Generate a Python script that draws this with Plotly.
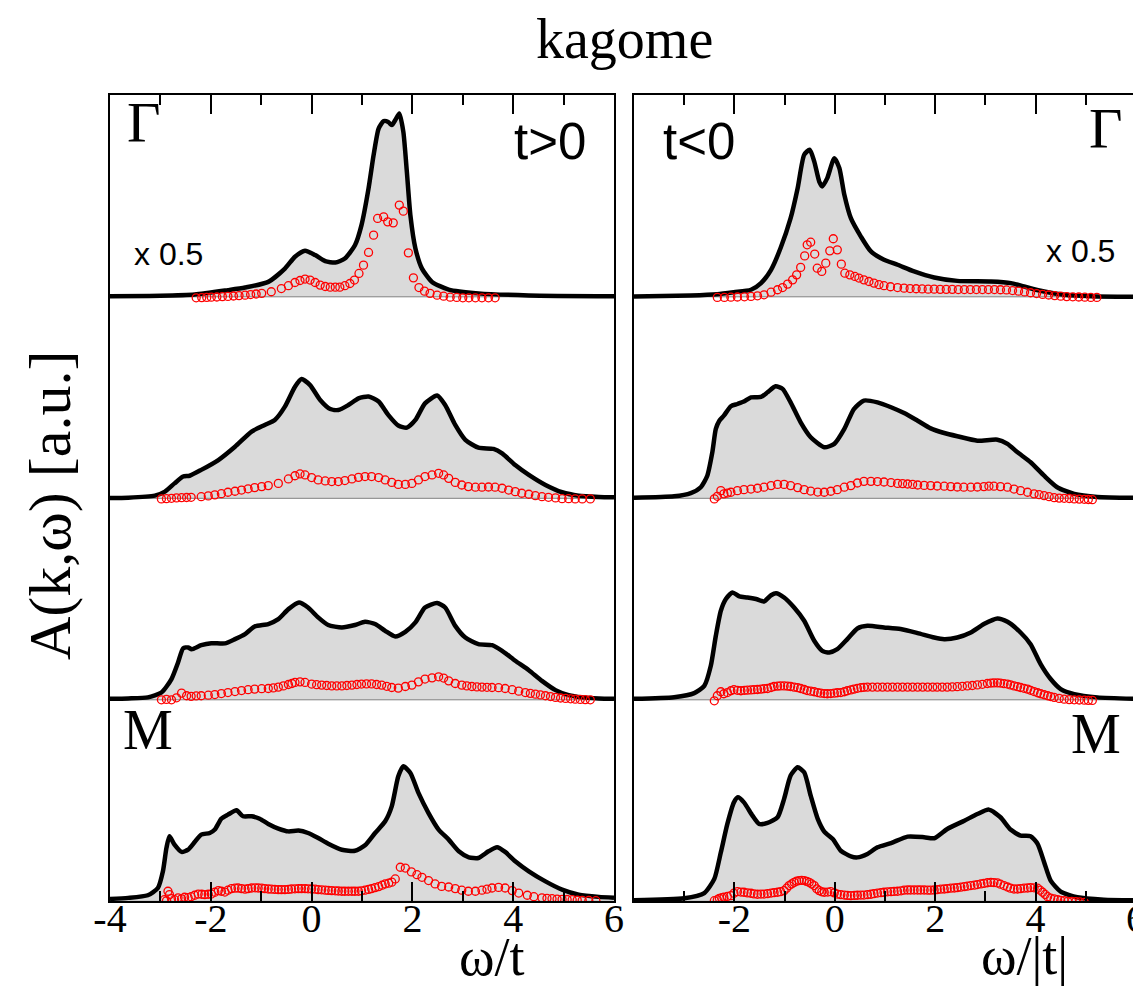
import plotly.graph_objects as go

W, H = 1141, 986

# ---------------- data (A(k,w) in units of one strip height) ----------------
# left column: t>0 ; strips from top: Gamma, k2, k3, M
lt1_w = [-4.0, -3.0, -2.32, -1.66, -1.32, -0.86, -0.53, -0.33, -0.13, 0.07, 0.27, 0.47, 0.66, 0.86, 0.99, 1.13, 1.23, 1.33, 1.43, 1.52, 1.59, 1.66, 1.74, 1.82, 1.89, 1.96, 2.06, 2.19, 2.39, 2.72, 3.31, 4.31, 6.0]
lt1_a = [0.003, 0.005, 0.011, 0.033, 0.046, 0.074, 0.14, 0.199, 0.229, 0.207, 0.177, 0.17, 0.19, 0.256, 0.356, 0.538, 0.703, 0.835, 0.872, 0.868, 0.852, 0.877, 0.91, 0.819, 0.62, 0.405, 0.24, 0.14, 0.074, 0.036, 0.017, 0.007, 0.003]
lt1_rw = [-2.29, -2.18, -2.08, -1.99, -1.88, -1.77, -1.66, -1.55, -1.44, -1.32, -1.21, -1.10, -0.99, -0.80, -0.60, -0.46, -0.33, -0.23, -0.13, -0.03, 0.07, 0.17, 0.27, 0.37, 0.47, 0.56, 0.66, 0.76, 0.85, 0.94, 1.03, 1.13, 1.23, 1.31, 1.43, 1.51, 1.62, 1.74, 1.82, 1.92, 2.02, 2.13, 2.24, 2.35, 2.49, 2.62, 2.75, 2.88, 3.00, 3.12, 3.25, 3.38, 3.51, 3.64]
lt1_ra = [-0.005, -0.004, -0.003, -0.002, -0.001, 0.001, 0.002, 0.004, 0.006, 0.008, 0.011, 0.014, 0.017, 0.025, 0.041, 0.055, 0.071, 0.081, 0.088, 0.083, 0.071, 0.058, 0.051, 0.048, 0.048, 0.048, 0.055, 0.066, 0.083, 0.116, 0.157, 0.22, 0.306, 0.389, 0.397, 0.372, 0.367, 0.455, 0.425, 0.218, 0.094, 0.046, 0.028, 0.017, 0.008, 0.003, -0.002, -0.003, -0.005, -0.005, -0.005, -0.005, -0.005, -0.005]

lt2_w = [-4.0, -3.64, -3.11, -2.91, -2.72, -2.55, -2.42, -2.19, -1.85, -1.52, -1.19, -0.93, -0.73, -0.53, -0.33, -0.20, -0.03, 0.17, 0.37, 0.53, 0.73, 0.93, 1.13, 1.33, 1.52, 1.72, 1.89, 2.06, 2.25, 2.49, 2.65, 2.85, 3.05, 3.31, 3.61, 3.78, 4.04, 4.31, 4.64, 4.97, 5.30, 5.70, 6.0]
lt2_a = [0.002, 0.003, 0.013, 0.033, 0.074, 0.108, 0.112, 0.141, 0.19, 0.256, 0.331, 0.364, 0.389, 0.455, 0.554, 0.592, 0.562, 0.488, 0.443, 0.438, 0.463, 0.496, 0.505, 0.48, 0.414, 0.361, 0.351, 0.389, 0.471, 0.51, 0.463, 0.364, 0.29, 0.251, 0.245, 0.223, 0.165, 0.116, 0.066, 0.03, 0.013, 0.007, 0.005]
lt2_rw = [-2.98, -2.88, -2.78, -2.68, -2.58, -2.48, -2.39, -2.19, -2.05, -1.92, -1.79, -1.66, -1.52, -1.39, -1.26, -1.13, -0.99, -0.86, -0.66, -0.46, -0.33, -0.23, -0.13, 0.00, 0.13, 0.27, 0.40, 0.53, 0.66, 0.80, 0.93, 1.06, 1.19, 1.33, 1.46, 1.59, 1.72, 1.86, 1.99, 2.12, 2.25, 2.39, 2.52, 2.62, 2.72, 2.85, 2.98, 3.11, 3.25, 3.38, 3.51, 3.64, 3.78, 3.91, 4.04, 4.17, 4.31, 4.44, 4.57, 4.70, 4.84, 4.97, 5.10, 5.23, 5.37, 5.53]
lt2_ra = [-0.003, -0.002, 0.0, 0.002, 0.003, 0.004, 0.005, 0.008, 0.012, 0.017, 0.023, 0.03, 0.035, 0.041, 0.047, 0.053, 0.058, 0.063, 0.074, 0.096, 0.112, 0.121, 0.116, 0.103, 0.091, 0.086, 0.083, 0.083, 0.088, 0.096, 0.104, 0.108, 0.108, 0.103, 0.091, 0.079, 0.069, 0.069, 0.074, 0.091, 0.108, 0.116, 0.124, 0.116, 0.099, 0.079, 0.066, 0.058, 0.055, 0.055, 0.056, 0.055, 0.05, 0.041, 0.033, 0.025, 0.02, 0.013, 0.008, 0.005, 0.002, -0.002, -0.002, -0.003, -0.003, -0.003]

lt3_w = [-4.0, -3.64, -3.25, -2.98, -2.78, -2.65, -2.55, -2.45, -2.38, -2.19, -1.99, -1.72, -1.52, -1.32, -1.13, -0.86, -0.66, -0.46, -0.25, -0.07, 0.13, 0.33, 0.60, 0.86, 1.06, 1.26, 1.46, 1.66, 1.86, 2.06, 2.25, 2.49, 2.65, 2.85, 3.05, 3.31, 3.58, 3.78, 4.04, 4.31, 4.57, 4.84, 5.10, 5.37, 5.70, 6.0]
lt3_a = [0.005, 0.007, 0.012, 0.036, 0.103, 0.185, 0.255, 0.26, 0.251, 0.271, 0.281, 0.28, 0.301, 0.326, 0.364, 0.376, 0.40, 0.45, 0.483, 0.458, 0.409, 0.371, 0.359, 0.371, 0.387, 0.376, 0.342, 0.314, 0.337, 0.384, 0.458, 0.48, 0.458, 0.367, 0.309, 0.276, 0.271, 0.243, 0.194, 0.147, 0.094, 0.048, 0.023, 0.012, 0.007, 0.005]
lt3_rw = [-2.98, -2.88, -2.78, -2.68, -2.58, -2.48, -2.39, -2.29, -2.19, -2.05, -1.92, -1.79, -1.66, -1.52, -1.39, -1.26, -1.13, -0.99, -0.86, -0.76, -0.66, -0.56, -0.46, -0.39, -0.33, -0.23, -0.13, 0.0, 0.10, 0.20, 0.30, 0.40, 0.50, 0.60, 0.70, 0.80, 0.90, 0.99, 1.09, 1.19, 1.29, 1.39, 1.49, 1.59, 1.72, 1.86, 1.99, 2.12, 2.25, 2.39, 2.52, 2.62, 2.72, 2.85, 2.98, 3.08, 3.18, 3.28, 3.38, 3.48, 3.58, 3.71, 3.84, 3.98, 4.11, 4.24, 4.34, 4.44, 4.54, 4.64, 4.74, 4.84, 4.94, 5.04, 5.14, 5.23, 5.33, 5.43, 5.53]
lt3_ra = [0.0, 0.002, 0.0, 0.01, 0.033, 0.02, 0.017, 0.019, 0.02, 0.023, 0.026, 0.031, 0.036, 0.041, 0.046, 0.05, 0.053, 0.055, 0.056, 0.059, 0.063, 0.069, 0.076, 0.081, 0.086, 0.089, 0.086, 0.078, 0.075, 0.073, 0.071, 0.069, 0.069, 0.069, 0.071, 0.073, 0.076, 0.078, 0.079, 0.079, 0.076, 0.073, 0.067, 0.061, 0.058, 0.066, 0.073, 0.089, 0.103, 0.109, 0.114, 0.108, 0.094, 0.081, 0.073, 0.069, 0.066, 0.064, 0.063, 0.062, 0.061, 0.06, 0.056, 0.05, 0.043, 0.036, 0.032, 0.028, 0.024, 0.02, 0.016, 0.012, 0.009, 0.007, 0.005, 0.003, 0.002, 0.001, 0.0]

lt4_w = [-4.0, -3.64, -3.25, -3.05, -2.95, -2.88, -2.82, -2.72, -2.58, -2.45, -2.32, -2.19, -2.02, -1.92, -1.79, -1.66, -1.49, -1.36, -1.19, -1.03, -0.86, -0.66, -0.46, -0.26, -0.07, 0.13, 0.33, 0.60, 0.86, 1.06, 1.26, 1.46, 1.59, 1.72, 1.82, 1.96, 2.12, 2.32, 2.52, 2.72, 2.92, 3.12, 3.31, 3.51, 3.68, 3.84, 4.04, 4.31, 4.64, 4.97, 5.30, 5.70, 6.0]
lt4_a = [0.012, 0.017, 0.03, 0.066, 0.149, 0.265, 0.323, 0.281, 0.245, 0.256, 0.294, 0.331, 0.339, 0.356, 0.41, 0.43, 0.452, 0.422, 0.422, 0.41, 0.384, 0.361, 0.347, 0.351, 0.339, 0.314, 0.286, 0.256, 0.251, 0.278, 0.339, 0.397, 0.471, 0.62, 0.67, 0.637, 0.538, 0.438, 0.356, 0.306, 0.248, 0.218, 0.215, 0.248, 0.268, 0.245, 0.199, 0.149, 0.099, 0.058, 0.033, 0.022, 0.018]
lt4_rw = [-2.92, -2.88, -2.85, -2.82, -2.78, -2.72, -2.65, -2.58, -2.52, -2.45, -2.39, -2.32, -2.25, -2.18, -2.12, -2.05, -1.99, -1.92, -1.85, -1.79, -1.72, -1.66, -1.59, -1.52, -1.46, -1.39, -1.32, -1.26, -1.19, -1.12, -1.06, -0.99, -0.93, -0.86, -0.80, -0.73, -0.66, -0.60, -0.53, -0.46, -0.40, -0.33, -0.26, -0.20, -0.13, -0.07, 0.0, 0.07, 0.13, 0.20, 0.27, 0.33, 0.40, 0.47, 0.53, 0.60, 0.66, 0.73, 0.80, 0.86, 0.93, 0.99, 1.06, 1.13, 1.19, 1.26, 1.33, 1.40, 1.46, 1.53, 1.59, 1.66, 1.76, 1.86, 1.98, 2.09, 2.19, 2.32, 2.45, 2.58, 2.72, 2.85, 2.98, 3.11, 3.25, 3.38, 3.48, 3.58, 3.71, 3.84, 3.98, 4.11, 4.28, 4.41, 4.57, 4.67, 4.77, 4.87, 4.97, 5.07, 5.17, 5.27, 5.37, 5.50, 5.64]
lt4_ra = [0.008, 0.002, 0.05, 0.033, 0.013, 0.008, 0.017, 0.012, 0.02, 0.018, 0.023, 0.03, 0.036, 0.035, 0.033, 0.035, 0.036, 0.045, 0.053, 0.05, 0.046, 0.055, 0.063, 0.065, 0.066, 0.063, 0.06, 0.063, 0.066, 0.067, 0.066, 0.065, 0.063, 0.061, 0.06, 0.059, 0.058, 0.058, 0.058, 0.059, 0.061, 0.062, 0.063, 0.063, 0.063, 0.062, 0.061, 0.06, 0.058, 0.057, 0.055, 0.054, 0.053, 0.052, 0.051, 0.05, 0.05, 0.05, 0.05, 0.05, 0.05, 0.052, 0.055, 0.059, 0.063, 0.068, 0.073, 0.08, 0.086, 0.09, 0.095, 0.111, 0.169, 0.165, 0.146, 0.132, 0.119, 0.103, 0.086, 0.074, 0.071, 0.063, 0.055, 0.05, 0.05, 0.055, 0.06, 0.066, 0.069, 0.066, 0.053, 0.041, 0.03, 0.023, 0.017, 0.015, 0.013, 0.011, 0.01, 0.009, 0.008, 0.006, 0.005, 0.004, 0.003]

# right column: t<0
rt1_w = [-4.0, -2.87, -2.34, -2.01, -1.67, -1.47, -1.27, -1.08, -0.88, -0.74, -0.61, -0.50, -0.41, -0.31, -0.25, -0.15, -0.01, 0.09, 0.19, 0.32, 0.52, 0.72, 0.98, 1.25, 1.58, 1.98, 2.44, 3.11, 3.51, 3.77, 4.17, 4.57, 5.10, 6.0]
rt1_a = [0.002, 0.007, 0.013, 0.023, 0.035, 0.068, 0.134, 0.242, 0.39, 0.539, 0.705, 0.73, 0.672, 0.572, 0.548, 0.589, 0.688, 0.639, 0.506, 0.39, 0.299, 0.225, 0.184, 0.159, 0.126, 0.096, 0.079, 0.076, 0.068, 0.051, 0.026, 0.010, 0.003, 0.0]
rt1_rw = [-2.34, -2.20, -2.07, -1.94, -1.80, -1.67, -1.54, -1.41, -1.27, -1.14, -1.04, -0.94, -0.84, -0.76, -0.68, -0.60, -0.55, -0.48, -0.40, -0.35, -0.26, -0.18, -0.10, -0.03, 0.05, 0.13, 0.20, 0.30, 0.40, 0.48, 0.58, 0.68, 0.78, 0.88, 0.98, 1.11, 1.25, 1.38, 1.50, 1.62, 1.74, 1.86, 1.98, 2.10, 2.22, 2.34, 2.46, 2.58, 2.70, 2.82, 2.94, 3.06, 3.18, 3.30, 3.42, 3.54, 3.66, 3.78, 3.90, 4.02, 4.14, 4.26, 4.38, 4.50, 4.62, 4.74, 4.86, 4.98, 5.10, 5.22]
rt1_ra = [-0.003, -0.003, -0.002, -0.001, 0.0, 0.002, 0.005, 0.010, 0.023, 0.035, 0.046, 0.063, 0.084, 0.109, 0.146, 0.203, 0.258, 0.271, 0.212, 0.142, 0.126, 0.167, 0.228, 0.288, 0.233, 0.162, 0.117, 0.109, 0.101, 0.093, 0.084, 0.076, 0.068, 0.060, 0.055, 0.050, 0.046, 0.043, 0.041, 0.040, 0.039, 0.038, 0.038, 0.037, 0.037, 0.037, 0.036, 0.036, 0.036, 0.036, 0.036, 0.036, 0.036, 0.035, 0.034, 0.031, 0.028, 0.024, 0.020, 0.016, 0.012, 0.009, 0.006, 0.003, 0.001, 0.0, -0.001, -0.002, -0.003, -0.003]

rt2_w = [-4.0, -3.20, -2.87, -2.67, -2.54, -2.44, -2.37, -2.30, -2.21, -2.07, -1.94, -1.81, -1.67, -1.47, -1.34, -1.18, -1.04, -0.88, -0.68, -0.48, -0.21, -0.01, 0.19, 0.38, 0.58, 0.85, 1.12, 1.38, 1.65, 1.91, 2.18, 2.44, 2.84, 3.24, 3.44, 3.64, 3.90, 4.17, 4.43, 4.77, 5.23, 6.0]
rt2_a = [0.003, 0.01, 0.026, 0.055, 0.112, 0.228, 0.344, 0.385, 0.41, 0.457, 0.468, 0.48, 0.501, 0.503, 0.526, 0.556, 0.543, 0.476, 0.377, 0.303, 0.253, 0.27, 0.344, 0.443, 0.485, 0.476, 0.452, 0.423, 0.385, 0.347, 0.324, 0.308, 0.286, 0.291, 0.27, 0.228, 0.179, 0.112, 0.055, 0.022, 0.007, 0.002]
rt2_rw = [-2.40, -2.34, -2.27, -2.21, -2.14, -2.07, -1.94, -1.81, -1.67, -1.54, -1.41, -1.27, -1.14, -1.01, -0.88, -0.74, -0.61, -0.48, -0.34, -0.21, -0.08, 0.05, 0.19, 0.32, 0.45, 0.58, 0.72, 0.85, 0.98, 1.12, 1.25, 1.35, 1.45, 1.55, 1.65, 1.78, 1.91, 2.04, 2.18, 2.31, 2.44, 2.57, 2.71, 2.84, 2.97, 3.07, 3.17, 3.30, 3.44, 3.57, 3.70, 3.84, 3.97, 4.07, 4.17, 4.27, 4.37, 4.47, 4.57, 4.67, 4.77, 4.87, 4.97, 5.05, 5.13]
rt2_ra = [-0.003, 0.01, 0.038, 0.022, 0.026, 0.03, 0.038, 0.043, 0.046, 0.05, 0.055, 0.063, 0.069, 0.069, 0.063, 0.053, 0.043, 0.036, 0.031, 0.03, 0.035, 0.043, 0.055, 0.063, 0.076, 0.084, 0.084, 0.083, 0.081, 0.078, 0.074, 0.073, 0.071, 0.069, 0.066, 0.064, 0.063, 0.061, 0.06, 0.058, 0.056, 0.055, 0.055, 0.056, 0.058, 0.06, 0.06, 0.058, 0.055, 0.046, 0.038, 0.03, 0.022, 0.018, 0.013, 0.008, 0.003, 0.001, 0.0, -0.001, -0.003, -0.004, -0.005, -0.006, -0.007]

rt3_w = [-4.0, -3.20, -2.80, -2.60, -2.47, -2.37, -2.27, -2.17, -2.04, -1.90, -1.74, -1.57, -1.41, -1.27, -1.17, -1.01, -0.81, -0.61, -0.41, -0.25, -0.11, 0.05, 0.25, 0.45, 0.65, 0.98, 1.31, 1.65, 1.98, 2.18, 2.44, 2.71, 2.97, 3.24, 3.44, 3.70, 3.90, 4.10, 4.30, 4.50, 4.77, 5.23, 6.0]
rt3_a = [0.005, 0.013, 0.033, 0.069, 0.169, 0.318, 0.442, 0.50, 0.533, 0.513, 0.508, 0.50, 0.488, 0.519, 0.529, 0.508, 0.458, 0.392, 0.293, 0.243, 0.235, 0.251, 0.301, 0.354, 0.367, 0.359, 0.351, 0.331, 0.309, 0.301, 0.309, 0.334, 0.376, 0.404, 0.387, 0.334, 0.276, 0.177, 0.103, 0.053, 0.028, 0.012, 0.005]
rt3_rw = [-2.40, -2.34, -2.27, -2.21, -2.14, -2.07, -2.01, -1.94, -1.87, -1.80, -1.74, -1.67, -1.61, -1.54, -1.47, -1.41, -1.34, -1.27, -1.21, -1.14, -1.08, -1.01, -0.94, -0.88, -0.81, -0.74, -0.68, -0.61, -0.55, -0.48, -0.41, -0.34, -0.28, -0.21, -0.15, -0.08, -0.01, 0.05, 0.12, 0.19, 0.25, 0.32, 0.38, 0.45, 0.52, 0.58, 0.65, 0.75, 0.85, 0.95, 1.05, 1.15, 1.25, 1.35, 1.45, 1.55, 1.65, 1.75, 1.85, 1.95, 2.04, 2.14, 2.24, 2.34, 2.44, 2.54, 2.64, 2.74, 2.84, 2.94, 3.04, 3.11, 3.17, 3.24, 3.30, 3.37, 3.44, 3.50, 3.57, 3.64, 3.70, 3.77, 3.84, 3.90, 3.97, 4.04, 4.10, 4.17, 4.24, 4.30, 4.37, 4.47, 4.57, 4.67, 4.77, 4.87, 4.97, 5.05, 5.13]
rt3_ra = [-0.005, 0.02, 0.04, 0.03, 0.036, 0.045, 0.05, 0.047, 0.045, 0.047, 0.048, 0.049, 0.05, 0.051, 0.053, 0.055, 0.056, 0.061, 0.066, 0.068, 0.069, 0.069, 0.068, 0.066, 0.063, 0.06, 0.056, 0.051, 0.046, 0.043, 0.04, 0.036, 0.033, 0.031, 0.03, 0.031, 0.033, 0.035, 0.036, 0.04, 0.045, 0.049, 0.053, 0.057, 0.06, 0.062, 0.063, 0.063, 0.063, 0.063, 0.063, 0.063, 0.063, 0.063, 0.063, 0.063, 0.063, 0.063, 0.063, 0.063, 0.063, 0.063, 0.063, 0.064, 0.065, 0.067, 0.069, 0.071, 0.074, 0.077, 0.081, 0.083, 0.084, 0.084, 0.083, 0.08, 0.078, 0.074, 0.069, 0.065, 0.061, 0.057, 0.053, 0.047, 0.041, 0.035, 0.03, 0.025, 0.02, 0.016, 0.012, 0.007, 0.003, 0.001, 0.0, -0.001, -0.002, -0.003, -0.003]

rt4_w = [-4.0, -3.00, -2.60, -2.40, -2.27, -2.14, -2.01, -1.93, -1.81, -1.64, -1.51, -1.34, -1.14, -1.01, -0.88, -0.74, -0.61, -0.48, -0.34, -0.21, -0.04, 0.12, 0.32, 0.45, 0.65, 0.85, 1.12, 1.45, 1.78, 1.98, 2.24, 2.58, 2.84, 3.07, 3.30, 3.50, 3.70, 3.90, 4.04, 4.17, 4.30, 4.50, 4.83, 5.36, 6.0]
rt4_a = [0.005, 0.015, 0.041, 0.111, 0.243, 0.384, 0.491, 0.516, 0.491, 0.425, 0.384, 0.389, 0.417, 0.508, 0.624, 0.665, 0.64, 0.524, 0.409, 0.346, 0.309, 0.251, 0.223, 0.218, 0.235, 0.268, 0.289, 0.321, 0.318, 0.313, 0.359, 0.40, 0.433, 0.455, 0.417, 0.356, 0.326, 0.323, 0.285, 0.194, 0.103, 0.048, 0.02, 0.008, 0.005]
rt4_rw = [-2.40, -2.34, -2.30, -2.25, -2.21, -2.14, -2.07, -2.01, -1.94, -1.87, -1.81, -1.74, -1.67, -1.61, -1.54, -1.47, -1.41, -1.34, -1.27, -1.21, -1.14, -1.08, -1.01, -0.96, -0.91, -0.86, -0.81, -0.76, -0.71, -0.66, -0.61, -0.56, -0.51, -0.46, -0.41, -0.36, -0.31, -0.26, -0.21, -0.14, -0.08, -0.01, 0.05, 0.12, 0.19, 0.25, 0.32, 0.39, 0.45, 0.52, 0.58, 0.65, 0.72, 0.78, 0.85, 0.92, 0.98, 1.05, 1.12, 1.18, 1.25, 1.32, 1.38, 1.45, 1.51, 1.58, 1.65, 1.71, 1.78, 1.85, 1.91, 1.98, 2.04, 2.11, 2.18, 2.24, 2.31, 2.38, 2.44, 2.51, 2.58, 2.64, 2.71, 2.78, 2.84, 2.91, 2.97, 3.04, 3.11, 3.17, 3.24, 3.30, 3.37, 3.44, 3.50, 3.57, 3.64, 3.70, 3.77, 3.84, 3.90, 3.97, 4.04, 4.09, 4.14, 4.19, 4.24, 4.30, 4.37, 4.44, 4.50, 4.57, 4.64, 4.72, 4.80, 4.88, 4.97]
rt4_ra = [0.003, 0.008, 0.015, 0.018, 0.02, 0.024, 0.028, 0.04, 0.048, 0.046, 0.045, 0.042, 0.04, 0.037, 0.035, 0.036, 0.036, 0.038, 0.041, 0.043, 0.045, 0.048, 0.053, 0.065, 0.078, 0.086, 0.094, 0.1, 0.103, 0.104, 0.103, 0.099, 0.094, 0.086, 0.078, 0.062, 0.053, 0.047, 0.045, 0.046, 0.048, 0.042, 0.036, 0.033, 0.031, 0.029, 0.028, 0.029, 0.03, 0.031, 0.031, 0.033, 0.035, 0.038, 0.041, 0.043, 0.045, 0.047, 0.048, 0.049, 0.05, 0.052, 0.055, 0.056, 0.056, 0.056, 0.056, 0.056, 0.056, 0.055, 0.055, 0.056, 0.058, 0.06, 0.061, 0.063, 0.065, 0.066, 0.068, 0.07, 0.073, 0.075, 0.078, 0.08, 0.083, 0.086, 0.089, 0.092, 0.094, 0.093, 0.091, 0.085, 0.078, 0.071, 0.065, 0.061, 0.061, 0.063, 0.065, 0.066, 0.068, 0.067, 0.065, 0.055, 0.045, 0.034, 0.023, 0.016, 0.012, 0.008, 0.005, 0.003, 0.0, -0.001, -0.002, -0.003, -0.005]

left_tick_vals = [-4, -2, 0, 2, 4, 6]
left_tick_text = ["-4", "-2", "0", "2", "4", "6"]
right_tick_vals = [-2, 0, 2, 4, 6]
right_tick_text = ["-2", "0", "2", "4", "6"]
minor_tick_vals = [-3, -1, 1, 3, 5]

strip_offsets = [3, 2, 1, 0]
left_panels = [(lt1_w, lt1_a, lt1_rw, lt1_ra), (lt2_w, lt2_a, lt2_rw, lt2_ra),
               (lt3_w, lt3_a, lt3_rw, lt3_ra), (lt4_w, lt4_a, lt4_rw, lt4_ra)]
right_panels = [(rt1_w, rt1_a, rt1_rw, rt1_ra), (rt2_w, rt2_a, rt2_rw, rt2_ra),
                (rt3_w, rt3_a, rt3_rw, rt3_ra), (rt4_w, rt4_a, rt4_rw, rt4_ra)]

# ---------------- figure ----------------
SERIF = "Liberation Serif, Times New Roman, serif"
SANS = "Liberation Sans, Arial, sans-serif"
fig = go.Figure()

for (xa, ya), panels in ((("x", "y"), left_panels), (("x2", "y2"), right_panels)):
    for off, (w, a, rw, ra) in zip(strip_offsets, panels):
        fig.add_trace(go.Scatter(x=[-4, 6], y=[off, off], mode="lines",
                                 line=dict(color="#808080", width=1),
                                 xaxis=xa, yaxis=ya, hoverinfo="skip", showlegend=False))
        fig.add_trace(go.Scatter(x=w, y=[off + v for v in a], mode="lines",
                                 line=dict(color="black", width=4.5, shape="spline", smoothing=0.6),
                                 fill="tonexty", fillcolor="#dadada",
                                 xaxis=xa, yaxis=ya, showlegend=False))
        n = min(len(rw), len(ra))
        fig.add_trace(go.Scatter(x=rw[:n], y=[off + v for v in ra[:n]], mode="markers",
                                 marker=dict(symbol="circle-open", size=8, color="red",
                                             line=dict(width=1.3, color="red")),
                                 xaxis=xa, yaxis=ya, showlegend=False))

ydom = [(H - 893.3) / H, (H - 87.3) / H]
common_x = dict(range=[-4, 6], showline=True, linecolor="black", linewidth=2, mirror="allticks",
                ticks="inside", ticklen=19, tickwidth=1.5, tickcolor="black",
                tickfont=dict(family=SERIF, size=40, color="black"), showgrid=False, zeroline=False,
                automargin=False, layer="above traces", ticklabelstandoff=-19,
                minor=dict(tickmode="array", tickvals=minor_tick_vals, ticks="inside", ticklen=10,
                           tickwidth=1.5, tickcolor="black", showgrid=False),
                tickmode="array")
common_y = dict(range=[0, 4], showline=True, linecolor="black", linewidth=2, mirror=True,
                ticks="", showticklabels=False, showgrid=False, zeroline=False, automargin=False)

fig.update_layout(
    template="none",
    width=W, height=H, margin=dict(l=0, r=0, t=0, b=0, pad=0, autoexpand=False),
    paper_bgcolor="white", plot_bgcolor="white", showlegend=False,
    xaxis=dict(domain=[102 / W, 606 / W], anchor="y", tickvals=left_tick_vals, ticktext=left_tick_text, **common_x),
    xaxis2=dict(domain=[626 / W, 1128 / W], anchor="y2", tickvals=right_tick_vals, ticktext=right_tick_text, **common_x),
    yaxis=dict(domain=ydom, anchor="x", **common_y),
    yaxis2=dict(domain=ydom, anchor="x2", **common_y),
)

def ann(text, xpx, ypx, family, size, angle=0):
    fig.add_annotation(text=text, x=xpx / W, y=1 - ypx / H, xref="paper", yref="paper",
                       xanchor="center", yanchor="middle", showarrow=False, textangle=angle,
                       font=dict(family=family, size=size, color="black"))

ann("kagome", 616, 31, SERIF, 56)
ann("Γ", 136, 115, SERIF, 58)
ann("t>0", 542, 134, SANS, 51)
ann("x 0.5", 160, 246, SANS, 32)
ann("t<0", 691, 134, SANS, 51)
ann("Γ", 1098, 121, SERIF, 58)
ann("x 0.5", 1072, 243, SANS, 32)
ann("M", 140, 722, SERIF, 56)
ann("M", 1088, 726, SERIF, 56)
ann("A(k,ω) [a.u.]", 42, 498, SERIF, 60, angle=-90)
ann("ω/t", 484, 949, SERIF, 54)
ann("ω/|t|", 1016, 948, SERIF, 54)

fig.write_html("out.html")
